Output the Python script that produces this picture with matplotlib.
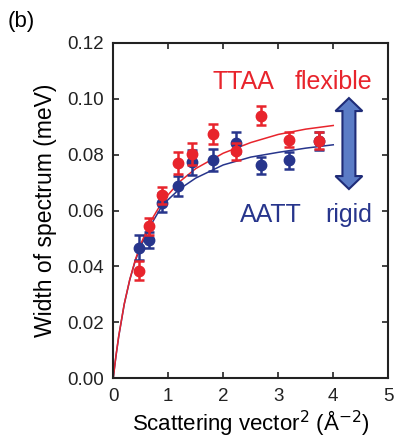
import matplotlib
matplotlib.use("Agg")
import matplotlib.pyplot as plt
from matplotlib.patches import Polygon

plt.rcParams['font.family'] = ['Liberation Sans', 'DejaVu Sans']

red = '#e8242c'
blue = '#27358c'

# measured points (Q^2, width)
q2 = [0.46, 0.65, 0.885, 1.17, 1.44, 1.82, 2.24, 2.69, 3.19, 3.74]
ttaa = [0.0385, 0.0543, 0.0655, 0.0770, 0.0803, 0.0874, 0.0812, 0.0939, 0.0853, 0.0849]
ttaa_err = [0.0035, 0.0030, 0.0030, 0.0040, 0.0040, 0.0035, 0.0030, 0.0033, 0.0026, 0.0030]
aatt = [0.0467, 0.0495, 0.0628, 0.0688, 0.0772, 0.0781, 0.0843, 0.0761, 0.0779, 0.0847]
aatt_err = [0.0045, 0.0030, 0.0033, 0.0037, 0.0045, 0.0039, 0.0038, 0.0031, 0.0030, 0.0032]

# fitted curves
fit_x = [0, 0.02, 0.05, 0.1, 0.2, 0.3, 0.4, 0.5, 0.7, 0.9, 1.2, 1.5, 2.0, 2.5, 3.0, 3.5, 4.0]
fit_ttaa = [0, 0.0034, 0.0082, 0.0152, 0.0266, 0.0353, 0.0423, 0.0480, 0.0568, 0.0634,
            0.0702, 0.0750, 0.0805, 0.0843, 0.0872, 0.0891, 0.0904]
fit_aatt = [0, 0.0033, 0.0080, 0.0150, 0.0265, 0.0352, 0.0420, 0.0472, 0.0554, 0.0621,
            0.0676, 0.0716, 0.0763, 0.0791, 0.0808, 0.0823, 0.0835]

fig = plt.figure(figsize=(4.03, 4.42), dpi=100)
ax = fig.add_axes([0.281, 0.144, 0.6824, 0.7594])

ax.plot(fit_x, fit_aatt, color=blue, lw=1.1, zorder=2)
ax.plot(fit_x, fit_ttaa, color=red, lw=1.1, zorder=2)
ax.errorbar(q2, aatt, yerr=aatt_err, fmt='o', color=blue, ms=7.5, elinewidth=1.8,
            capsize=3.8, capthick=1.8, zorder=3)
ax.errorbar(q2, ttaa, yerr=ttaa_err, fmt='o', color=red, ms=7.5, elinewidth=1.8,
            capsize=3.8, capthick=1.8, zorder=4)

ax.set_xlim(0, 5)
ax.set_ylim(0, 0.12)
ax.set_xticks([0, 1, 2, 3, 4, 5])
ax.set_yticks([0, 0.02, 0.04, 0.06, 0.08, 0.10, 0.12])
ax.set_yticklabels(['0.00', '0.02', '0.04', '0.06', '0.08', '0.10', '0.12'])
ax.tick_params(direction='in', length=4, width=1.2, top=True, right=True,
               labelsize=13.5, colors='#222222')
ax.tick_params(axis='x', pad=7)
ax.tick_params(axis='y', pad=7)
for s in ax.spines.values():
    s.set_linewidth(1.5)
    s.set_color('#222222')

ax.set_xlabel('Scattering vector$^2$ (Å$^{-2}$)', fontsize=16, labelpad=2)
ax.set_ylabel('Width of spectrum (meV)', fontsize=16.5, labelpad=7)

ax.text(0.472, 0.883, 'TTAA', color=red, fontsize=18, ha='center', va='center',
        transform=ax.transAxes)
ax.text(0.80, 0.883, 'flexible', color=red, fontsize=18, ha='center', va='center',
        transform=ax.transAxes)
ax.text(0.574, 0.487, 'AATT', color=blue, fontsize=18, ha='center', va='center',
        transform=ax.transAxes)
ax.text(0.855, 0.487, 'rigid', color=blue, fontsize=18, ha='center', va='center',
        transform=ax.transAxes)

# double-headed arrow
cx, top, bot = 0.857, 0.835, 0.564
hs, hh, hl = 0.0236, 0.049, 0.0387
pts = [(cx, top), (cx + hh, top - hl), (cx + hs, top - hl), (cx + hs, bot + hl),
       (cx + hh, bot + hl), (cx, bot), (cx - hh, bot + hl), (cx - hs, bot + hl),
       (cx - hs, top - hl), (cx - hh, top - hl)]
ax.add_patch(Polygon(pts, closed=True, transform=ax.transAxes, facecolor='#5b7cc6',
                     edgecolor='#1f2c78', lw=1.5, zorder=5))

fig.text(0.02, 0.94, '(b)', fontsize=16)

fig.savefig('out.png', dpi=100)
